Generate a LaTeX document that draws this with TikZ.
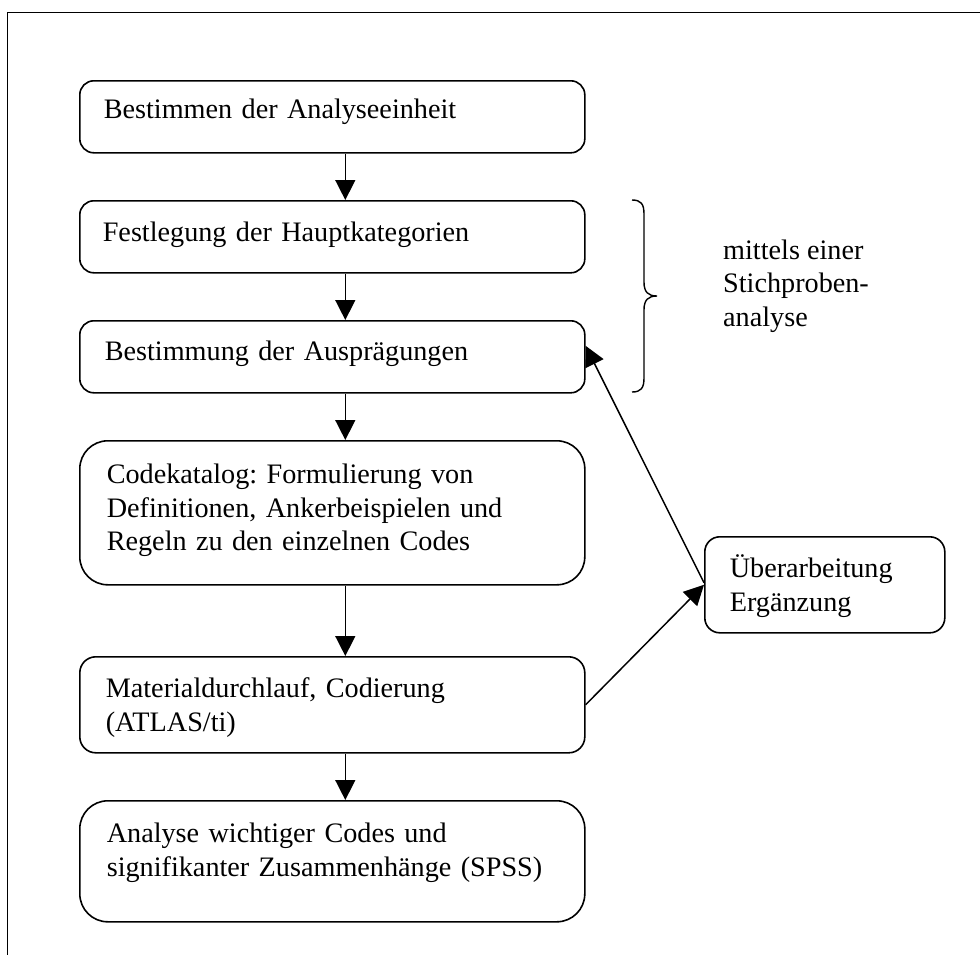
\documentclass[tikz,border=0pt]{standalone}
\usepackage{fontspec}
\setmainfont{Liberation Serif}
\frenchspacing
\usetikzlibrary{arrows.meta,calc}
\tikzset{
  box/.style={draw, rectangle, line width=1.6pt, inner ysep=0pt, align=left, anchor=north west},
  arr/.style={line width=1.5pt, -{Triangle[length=20pt,width=20pt]}},
  frame/.style={line width=1.4pt},
  bracepath/.style={line width=1.4pt}
}
\begin{document}
\begin{tikzpicture}[x=1pt,y=-1pt,font=\fontsize{28.2}{33.5}\selectfont]
\useasboundingbox (0,0) rectangle (980,954);
\draw[frame] (7.7,960) -- (7.7,12.5) -- (990,12.5);

\node[box, rounded corners=14pt, inner xsep=24pt, text width=457pt, text height=38pt, text depth=34pt] (b1) at (79,80) {Bestimmen der Analyseeinheit};
\node[box, rounded corners=14pt, inner xsep=23pt, text width=459pt, text height=41pt, text depth=31pt] (b2) at (79,200) {Festlegung der Hauptkategorien};
\node[box, rounded corners=14pt, inner xsep=25pt, text width=455pt, text height=40pt, text depth=32pt] (b3) at (79,320) {Bestimmung der Ausprägungen};
\node[box, rounded corners=28pt, inner xsep=27pt, text width=451pt, text height=43pt, text depth=101pt] (b4) at (79,440) {Codekatalog: Formulierung von\\Definitionen, Ankerbeispielen und\\Regeln zu den einzelnen Codes};
\node[box, rounded corners=16pt, inner xsep=26pt, text width=453pt, text height=41pt, text depth=55pt] (b5) at (79,656) {Materialdurchlauf, Codierung\\(ATLAS/ti)};
\node[box, rounded corners=28pt, inner xsep=27pt, text width=451pt, text height=42pt, text depth=79pt] (b6) at (79,800) {Analyse wichtiger Codes und\\signifikanter Zusammenhänge (SPSS)};
\node[box, rounded corners=15pt, inner xsep=25pt, text width=190pt, text height=41pt, text depth=55pt] (b7) at (704,536) {Überarbeitung\\Ergänzung};

\node[anchor=base west, align=left, inner sep=0pt] (note) at (723,326) {mittels einer\\Stichproben-\\analyse};

\draw[arr] ([xshift=13pt]b1.south) -- ([xshift=13pt]b2.north);
\draw[arr] ([xshift=13pt]b2.south) -- ([xshift=13pt]b3.north);
\draw[arr] ([xshift=13pt]b3.south) -- ([xshift=13pt]b4.north);
\draw[arr] ([xshift=13pt]b4.south) -- ([xshift=13pt]b5.north);
\draw[arr] ([xshift=13pt]b5.south) -- ([xshift=13pt]b6.north);
\draw[arr] (b5.east) -- (b7.west);
\draw[arr] ([yshift=2pt]b7.west) -- ([yshift=11pt]b3.east);

\draw[bracepath] (632,200) .. controls (641,200) and (644,204) .. (644,214) -- (644,282) .. controls (644,292) and (648,296) .. (657,296) .. controls (648,296) and (644,300) .. (644,310) -- (644,378) .. controls (644,388) and (641,392) .. (632,392);
\end{tikzpicture}
\end{document}
